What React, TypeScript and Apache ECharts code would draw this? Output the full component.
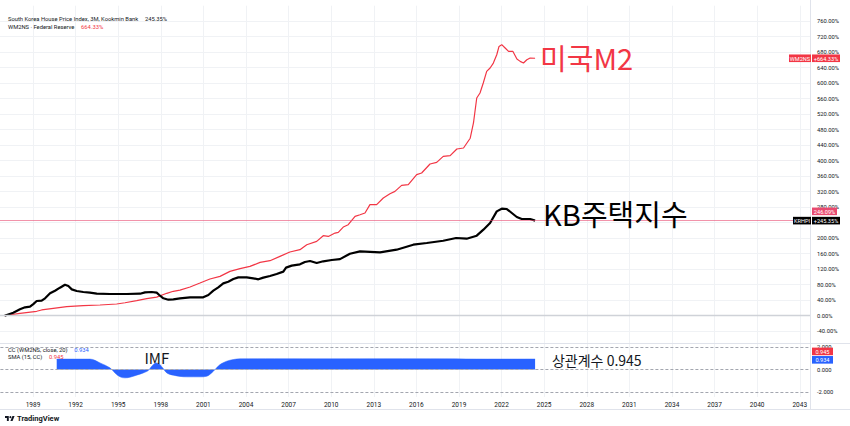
import React, { useEffect, useRef } from 'react';
import * as echarts from 'echarts';

// KB house price index (% change since start)
const kbYears = [1987.0, 1987.61, 1988.08, 1988.44, 1988.79, 1989.02, 1989.26, 1989.61, 1989.85, 1990.2, 1990.55, 1990.9, 1991.25, 1991.49, 1991.73, 1992.08, 1992.54, 1993.01, 1993.49, 1994.42, 1995.6, 1996.54, 1996.89, 1997.36, 1997.71, 1997.89, 1998.18, 1998.53, 1998.88, 1999.35, 2000.06, 2000.99, 2001.35, 2001.7, 2002.05, 2002.4, 2002.75, 2003.11, 2003.46, 2004.05, 2004.51, 2004.87, 2005.22, 2005.69, 2006.16, 2006.63, 2006.82, 2007.22, 2007.8, 2008.15, 2008.51, 2008.98, 2009.44, 2010.04, 2010.62, 2011.32, 2012.03, 2013.44, 2014.61, 2015.78, 2016.73, 2017.89, 2018.8, 2019.54, 2020.25, 2020.72, 2021.19, 2021.66, 2022.01, 2022.37, 2022.72, 2023.07, 2023.42, 2024.01, 2024.36];
const kbValues = [0, 7.8, 16.5, 21.7, 23.2, 30, 37.9, 38.7, 44.9, 57.8, 64.5, 72.3, 80, 76.6, 68, 63.7, 61.2, 59.4, 56.8, 56, 56, 56.8, 60.3, 61.2, 59.4, 53.4, 44.9, 41.3, 42.3, 44.5, 47.4, 47.4, 53.4, 64.5, 73.2, 83.5, 87.7, 94.7, 99, 99, 96.5, 93.9, 98.2, 102.5, 107.7, 113.7, 124, 129.2, 132.6, 138.6, 141.2, 136, 140.4, 143.7, 146, 160, 166, 163.4, 170.3, 183.2, 187.6, 193.5, 200.5, 198.7, 206.5, 222, 239.2, 269.2, 276.1, 275.3, 265, 254.7, 249.5, 249.5, 245.35];

// US M2 (WM2NS, % change since start)
const m2Years = [1987.0, 1988.08, 1989.26, 1989.61, 1990.43, 1991.37, 1992.54, 1993.72, 1994.89, 1995.48, 1996.3, 1997.01, 1997.71, 1998.42, 1998.88, 1999.35, 2000.06, 2000.76, 2001.46, 2002.17, 2002.87, 2003.58, 2004.28, 2004.99, 2005.69, 2006.39, 2007.09, 2007.8, 2008.28, 2008.98, 2009.44, 2009.8, 2010.27, 2010.5, 2010.85, 2011.2, 2011.68, 2012.03, 2012.38, 2012.73, 2013.2, 2013.67, 2014.14, 2014.49, 2014.96, 2015.43, 2016.02, 2016.37, 2016.96, 2017.43, 2017.89, 2018.38, 2018.85, 2019.32, 2019.79, 2020.02, 2020.25, 2020.48, 2020.71, 2020.95, 2021.19, 2021.42, 2021.66, 2021.82, 2022.01, 2022.25, 2022.49, 2022.8, 2023.08, 2023.31, 2023.54, 2023.78, 2024.01, 2024.36];
const m2Values = [0, 6.2, 11.4, 14.8, 19.1, 23.2, 25.8, 27.6, 30.2, 33.5, 38.7, 44, 48, 57.8, 63, 66, 74, 84.3, 94.7, 101.5, 114.3, 121.3, 127.2, 137.6, 141.9, 153, 164.3, 170.3, 183.2, 191.8, 206.5, 204.6, 213.3, 215, 228.8, 234.8, 256.3, 260.6, 265, 286.5, 286.5, 303.7, 314.8, 320.8, 336.3, 338.1, 363.9, 368.3, 391.5, 395.6, 411.1, 412.9, 430.2, 432.8, 458, 497.3, 561.8, 574.7, 600.5, 630.5, 639.2, 652, 673.5, 695, 699.4, 690.8, 682, 682, 662.4, 656.3, 652, 660.6, 665, 664.33];

// Correlation coefficient CC(WM2NS, close, 20)
const ccYears = [1990.67, 1993.01, 1993.72, 1994.42, 1994.77, 1995.13, 1995.48, 1995.83, 1996.3, 1996.77, 1997.12, 1997.36, 1997.66, 1997.89, 1998.13, 1998.42, 1998.88, 1999.82, 2000.76, 2001.23, 2001.58, 2001.82, 2002.17, 2002.64, 2003.11, 2003.58, 2006, 2010, 2014, 2018, 2021, 2024.36];
const ccValues = [0.93, 0.93, 0.59, 0.15, -0.3, -0.65, -0.74, -0.68, -0.5, -0.3, -0.09, 0.29, 0.59, 0.5, 0.15, -0.3, -0.5, -0.65, -0.65, -0.6, -0.3, 0, 0.44, 0.74, 0.89, 0.95, 0.96, 0.95, 0.96, 0.95, 0.93, 0.934];

const ccLevels = [2, 0, -2];
const ccLevelLabels = ['2.000', '0.000', '-2.000'];
// axis labels hidden behind the price tags in the reference
const hiddenPctLabels = [240];

const priceLine = 246.09;
const kbLast = 245.35;
const m2Last = 664.33;
const ccLast = 0.934;
const smaLast = 0.945;

const RED = '#F23645';
const BLUE = '#2962FF';
const PINK = '#E84A70';
const GRID = '#f0f2f5';
const TXT = '#131722';
const FONT = 'Roboto, "Noto Sans", sans-serif';
const KFONT = '"Noto Sans CJK KR", "Noto Sans", sans-serif';

// the chart canvas is shifted left by OX so that the x axis can start at a multiple of its interval
const OX = 10;

const zip = (xs: number[], ys: number[]) => xs.map((x, i) => [x, ys[i]]);

echarts.graphic.registerShape(
  'tvlogo',
  echarts.graphic.extendPath('M14 22H7V11H0V4h14v18zM28 22h-8l7.5-18h8L28 22z', {}) as any
);

export default function App() {
  const ref = useRef<HTMLDivElement>(null);

  useEffect(() => {
    if (!ref.current) return;
    const chart = echarts.init(ref.current, null, { renderer: 'svg' });

    const xCommon = {
      type: 'value',
      min: 1986,
      max: 2043.72,
      interval: 3,
      axisLine: { show: false },
      axisTick: { show: false },
      splitLine: { show: true, lineStyle: { color: GRID, width: 1 } },
    };

    const option: any = {
      animation: false,
      backgroundColor: '#ffffff',
      grid: [
        { left: 0.4, right: 40, top: 5.7, bottom: 79.3 },
        { left: 0.4, right: 40, top: 344, bottom: 29 },
      ],
      xAxis: [
        { ...xCommon, gridIndex: 0, axisLabel: { show: false } },
        {
          ...xCommon,
          gridIndex: 1,
          axisLabel: {
            show: true,
            showMinLabel: false,
            showMaxLabel: false,
            fontSize: 6.5,
            color: TXT,
            fontFamily: FONT,
            margin: 4,
            formatter: (v: number) => String(Math.round(v)),
          },
        },
      ],
      yAxis: [
        {
          type: 'value',
          gridIndex: 0,
          position: 'right',
          min: -80,
          max: 800,
          interval: 40,
          axisLine: { show: false },
          axisTick: { show: false },
          axisLabel: {
            showMinLabel: false,
            showMaxLabel: false,
            fontSize: 5.8,
            color: TXT,
            fontFamily: FONT,
            margin: 7,
            formatter: (v: number) => (hiddenPctLabels.includes(v) ? '' : v.toFixed(2) + '%'),
          },
          splitLine: { show: true, showMinLine: false, showMaxLine: false, lineStyle: { color: GRID } },
        },
        {
          type: 'value',
          gridIndex: 1,
          position: 'right',
          min: -2.44,
          max: 2.27,
          axisLine: { show: false },
          axisTick: { show: false },
          axisLabel: { show: false },
          splitLine: { show: false },
        },
      ],
      series: [
        {
          type: 'line',
          name: 'WM2NS',
          xAxisIndex: 0,
          yAxisIndex: 0,
          data: zip(m2Years, m2Values),
          symbol: 'none',
          lineStyle: { color: RED, width: 1.2 },
          z: 3,
          markLine: {
            silent: true,
            symbol: ['none', 'none'],
            label: { show: false },
            data: [{ yAxis: 0, lineStyle: { color: '#cfd2d8', width: 1.3, type: 'solid' } }],
          },
        },
        {
          type: 'line',
          name: 'KRHPI',
          xAxisIndex: 0,
          yAxisIndex: 0,
          data: zip(kbYears, kbValues),
          symbol: 'none',
          lineStyle: { color: '#000000', width: 2.2 },
          z: 4,
          markLine: {
            silent: true,
            symbol: ['none', 'none'],
            label: { show: false },
            data: [{ yAxis: priceLine, lineStyle: { color: PINK, width: 0.8, type: 'solid', opacity: 0.75 } }],
          },
        },
        {
          type: 'line',
          name: 'CC',
          xAxisIndex: 1,
          yAxisIndex: 1,
          data: zip(ccYears, ccValues),
          symbol: 'none',
          smooth: 0.35,
          lineStyle: { color: BLUE, width: 0.5 },
          areaStyle: { color: BLUE, opacity: 1 },
          z: 2,
          markLine: {
            silent: true,
            symbol: ['none', 'none'],
            label: {
              show: true,
              position: 'end',
              distance: 7,
              fontSize: 5.8,
              color: TXT,
              fontFamily: FONT,
            },
            data: ccLevels.map((v, i) => ({
              yAxis: v,
              lineStyle: { color: '#a3a6af', width: 1, type: [3, 2] },
              label: { formatter: ccLevelLabels[i] },
            })),
          },
        },
      ],
    };

    chart.setOption(option);

    const p0 = (x: number, y: number) => chart.convertToPixel({ gridIndex: 0 }, [x, y]) as number[];
    const p1 = (x: number, y: number) => chart.convertToPixel({ gridIndex: 1 }, [x, y]) as number[];

    const tag = (x: number, yc: number, w: number, text: string, bg: string) => ({
      type: 'group',
      z: 100,
      children: [
        { type: 'rect', z: 100, shape: { x: x + OX, y: yc - 3.8, width: w, height: 7.6 }, style: { fill: bg } },
        {
          type: 'text',
          z: 101,
          style: {
            text,
            x: x + OX + w / 2,
            y: yc + 0.3,
            align: 'center',
            verticalAlign: 'middle',
            fill: '#ffffff',
            fontSize: 5.6,
            fontFamily: FONT,
          },
        },
      ],
    });

    const legend = (x: number, y: number, a: string, b: string, bColor: string) => ({
      type: 'text',
      z: 100,
      style: {
        x: x + OX,
        y,
        verticalAlign: 'middle',
        text: '{a|' + a + '}  {b|' + b + '}',
        rich: {
          a: { fontSize: 5.8, fill: TXT, fontFamily: FONT },
          b: { fontSize: 5.8, fill: bColor, fontFamily: FONT },
        },
      },
    });

    const m2End = p0(m2Years[m2Years.length - 1], m2Last);
    const kbEnd = p0(kbYears[kbYears.length - 1], kbLast);
    const plY = p0(2000, priceLine)[1];
    const ccY = p1(2000, ccLast)[1];
    const smaY = p1(2000, smaLast)[1];
    const imfP = p1(1997.72, 1.1);
    const corrP = p1(2025.55, 0.84);

    const graphic: any[] = [
      // pane borders
      { type: 'line', z: 50, shape: { x1: OX, y1: 343.5, x2: 850 + OX, y2: 343.5 }, style: { stroke: '#e0e3eb', lineWidth: 1 } },
      { type: 'line', z: 50, shape: { x1: 810.5 + OX, y1: 0, x2: 810.5 + OX, y2: 409.5 }, style: { stroke: '#e0e3eb', lineWidth: 1 } },
      { type: 'line', z: 50, shape: { x1: OX, y1: 409.5, x2: 850 + OX, y2: 409.5 }, style: { stroke: '#e0e3eb', lineWidth: 1 } },
      // legends
      legend(8, 18.5, 'South Korea House Price Index, 3M, Kookmin Bank', kbLast.toFixed(2) + '%', TXT),
      legend(8, 27, 'WM2NS · Federal Reserve', m2Last.toFixed(2) + '%', RED),
      legend(8, 349.5, 'CC (WM2NS, close, 20)', ccLast.toFixed(3), BLUE),
      legend(8, 357, 'SMA (15, CC)', smaLast.toFixed(3), RED),
      // annotations
      {
        type: 'text',
        z: 100,
        style: {
          x: m2End[0] + 5,
          y: m2End[1] - 1,
          text: '미국M2',
          verticalAlign: 'middle',
          fontSize: 29,
          fill: RED,
          fontFamily: KFONT,
        },
      },
      {
        type: 'text',
        z: 100,
        style: {
          x: kbEnd[0] + 8,
          y: kbEnd[1] - 8,
          text: 'KB주택지수',
          verticalAlign: 'middle',
          fontSize: 29,
          fill: '#000000',
          fontFamily: KFONT,
        },
      },
      {
        type: 'text',
        z: 100,
        style: {
          x: imfP[0],
          y: imfP[1],
          text: 'IMF',
          align: 'center',
          verticalAlign: 'middle',
          fontSize: 15,
          fill: TXT,
          fontFamily: KFONT,
        },
      },
      {
        type: 'text',
        z: 100,
        style: {
          x: corrP[0],
          y: corrP[1],
          text: '상관계수 0.945',
          verticalAlign: 'middle',
          fontSize: 14,
          fill: TXT,
          fontFamily: KFONT,
        },
      },
      // price tags
      tag(789, m2End[1], 22, 'WM2NS', RED),
      tag(812, m2End[1], 28, '+' + m2Last.toFixed(2) + '%', RED),
      tag(812, plY - 9, 25, priceLine.toFixed(2) + '%', PINK),
      tag(793, kbEnd[1], 18, 'KRHPI', '#000000'),
      tag(812, kbEnd[1], 28, '+' + kbLast.toFixed(2) + '%', '#000000'),
      tag(812, smaY - 7.5, 21, smaLast.toFixed(3), RED),
      tag(812, ccY + 0.8, 21, ccLast.toFixed(3), BLUE),
      // TradingView logo
      {
        type: 'tvlogo',
        z: 100,
        x: 5 + OX,
        y: 415,
        scaleX: 0.27,
        scaleY: 0.27,
        style: { fill: TXT },
      },
      { type: 'circle', z: 100, shape: { cx: 5 + OX + 20 * 0.27, cy: 415 + 8 * 0.27, r: 4 * 0.27 }, style: { fill: TXT } },
      {
        type: 'text',
        z: 100,
        style: {
          x: 17 + OX,
          y: 418.5,
          text: 'TradingView',
          verticalAlign: 'middle',
          fontSize: 7.5,
          fontWeight: 'bold',
          fill: TXT,
          fontFamily: FONT,
        },
      },
    ];

    chart.setOption({ graphic });

    return () => {
      chart.dispose();
    };
  }, []);

  return (
    <div
      ref={ref}
      style={{ position: 'absolute', left: -OX, top: 0, width: 850 + OX, height: 426, overflow: 'hidden' }}
    />
  );
}
